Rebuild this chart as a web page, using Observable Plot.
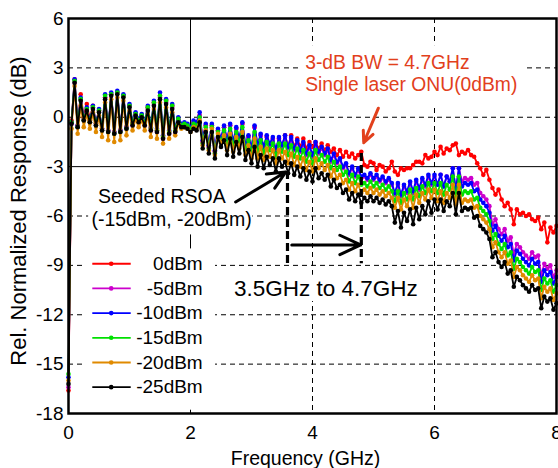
<!DOCTYPE html>
<html><head><meta charset="utf-8">
<script src="https://cdn.jsdelivr.net/npm/d3@7"></script>
<script src="https://cdn.jsdelivr.net/npm/@observablehq/plot@0.6"></script>
<style>body{margin:0;background:#fff} svg{display:block}</style>
</head><body><div id="chart"></div>
<script>
const seriesNames = ["0dBm", "-5dBm", "-10dBm", "-15dBm", "-20dBm", "-25dBm"];
const seriesColors = ["#ff0000", "#cc00cc", "#0000ff", "#00e000", "#e08a00", "#000000"];
const freqStepGHz = 0.05;
const xTicks = [0, 2, 4, 6, 8];
const yTicks = [-18, -15, -12, -9, -6, -3, 0, 3, 6];

const r0dBm = [-16.6,-0.2,2.3,-0.5,1.4,0.0,0.8,-0.1,0.7,-0.4,0.4,-0.7,1.2,-0.8,1.4,-0.9,1.5,-0.8,1.3,-0.6,0.7,-0.4,0.2,-0.2,0.1,-0.4,0.6,-0.7,0.9,-0.8,1.3,-1.2,1.0,-0.9,0.7,-0.8,-0.1,-0.5,-0.4,-0.5,-0.7,
-0.3,-0.4,0.1,-1.5,-0.5,-1.8,-0.5,-2.1,-0.8,-1.4,-0.6,-1.5,-0.5,-1.6,-0.7,-1.4,-0.4,-1.8,-1.2,-2.0,-0.6,-1.8,-1.1,-1.9,-1.2,-1.7,-1.3,-2.1,-1.3,-1.8,-1.1,-1.8,-1.1,-1.8,-1.3,-1.8,-1.3,-1.9,-1.5,-1.8,
-1.5,-1.9,-1.6,-2.0,-1.7,-2.1,-1.9,-2.3,-2.0,-2.4,-2.1,-2.4,-2.2,-2.5,-2.3,-2.1,-2.9,-3.0,-2.7,-2.8,-3.2,-2.9,-3.0,-3.3,-3.1,-2.7,-3.3,-3.5,-3.1,-3.2,-3.1,-3.1,-2.9,-2.7,-2.7,-2.8,-2.3,-2.5,-2.4,-2.1,
-2.3,-1.8,-2.2,-1.9,-2.0,-1.7,-1.6,-2.3,-2.1,-2.2,-2.0,-2.3,-2.4,-2.8,-3.1,-3.5,-3.2,-3.8,-4.3,-4.7,-4.4,-5.0,-5.4,-5.2,-5.6,-6.5,-5.6,-5.9,-5.8,-6.0,-5.9,-6.2,-6.3,-6.1,-6.8,-6.4,-7.6,-6.7,-7.0,-6.6];

const m5dBm = [-16.4,-0.4,2.1,-0.6,1.1,-0.2,0.5,-0.3,0.6,-0.5,0.4,-0.8,1.2,-0.9,1.4,-1.0,1.5,-0.9,1.3,-0.7,0.7,-0.5,0.2,-0.3,0.1,-0.5,0.5,-0.8,0.8,-0.9,1.2,-1.3,0.9,-1.0,0.6,-0.9,-0.2,-0.6,-0.5,-0.6,-0.8,
-0.3,-0.4,0.1,-1.5,-0.5,-1.8,-0.5,-2.1,-0.8,-1.4,-0.6,-1.5,-0.5,-1.6,-0.7,-1.4,-0.4,-1.8,-1.2,-2.0,-0.6,-1.8,-1.1,-1.9,-1.2,-1.7,-1.3,-2.1,-1.3,-1.8,-1.2,-1.9,-1.3,-2.0,-1.5,-2.1,-1.6,-2.3,-1.8,-2.4,
-1.6,-2.2,-1.9,-2.3,-2.0,-2.7,-2.3,-2.8,-2.6,-3.1,-2.9,-3.5,-3.1,-3.6,-3.2,-3.7,-3.6,-3.8,-3.5,-3.8,-3.6,-3.9,-3.7,-4.0,-3.8,-4.1,-4.7,-4.1,-4.8,-4.2,-4.6,-4.0,-4.6,-3.9,-4.4,-3.8,-4.2,-3.6,-4.1,-3.6,
-4.1,-3.5,-4.2,-3.6,-3.9,-3.1,-4.4,-3.1,-3.9,-3.7,-3.8,-3.7,-4.1,-4.0,-4.6,-4.8,-5.0,-5.4,-6.5,-6.2,-6.8,-7.1,-6.8,-7.5,-7.3,-8.3,-7.7,-7.9,-8.2,-8.4,-8.6,-8.2,-8.5,-8.4,-9.6,-8.9,-9.2,-9.0,-9.7,-9.3];

const m10dBm = [-15.8,-0.3,2.3,-0.5,1.2,-0.1,0.6,-0.2,0.7,-0.4,0.5,-0.7,1.4,-0.8,1.5,-0.9,1.6,-0.8,1.4,-0.6,0.8,-0.3,0.3,-0.1,0.2,-0.3,0.7,-0.6,1.0,-0.7,1.5,-1.1,1.1,-0.8,0.8,-0.7,0.0,-0.4,-0.3,-0.4,-0.6,
-0.2,-0.3,0.3,-1.4,-0.4,-1.7,-0.4,-2.0,-0.7,-1.3,-0.5,-1.4,-0.4,-1.5,-0.6,-1.3,-0.3,-1.7,-1.1,-1.9,-0.5,-1.7,-1.0,-1.8,-1.1,-1.6,-1.2,-2.0,-1.2,-1.7,-1.1,-1.8,-1.2,-1.9,-1.4,-2.0,-1.5,-2.2,-1.7,-2.3,
-1.5,-2.1,-1.8,-2.2,-1.9,-2.6,-2.2,-2.7,-2.5,-3.0,-2.8,-3.4,-3.0,-3.5,-3.1,-3.6,-3.5,-3.7,-3.4,-3.7,-3.5,-3.8,-3.6,-3.9,-3.7,-4.0,-4.6,-4.0,-4.7,-4.1,-4.5,-3.9,-4.5,-3.8,-4.3,-3.7,-4.1,-3.5,-4.0,-3.5,
-4.1,-3.5,-4.2,-3.6,-3.9,-3.1,-4.4,-3.1,-4.2,-4.0,-4.1,-4.0,-4.5,-4.4,-5.0,-5.2,-5.4,-5.8,-6.9,-6.6,-7.2,-7.5,-7.2,-7.9,-7.7,-8.7,-8.1,-8.3,-8.6,-8.8,-9.0,-8.6,-8.9,-8.8,-10.0,-9.3,-9.6,-9.4,-10.1,-9.7];

const m15dBm = [-15.6,-0.3,2.2,-0.6,1.1,-0.2,0.5,-0.3,0.6,-0.5,0.4,-0.8,1.3,-0.9,1.4,-1.0,1.5,-0.9,1.3,-0.7,0.7,-0.4,0.2,-0.2,0.1,-0.4,0.6,-0.7,0.9,-0.8,1.3,-1.2,1.0,-0.9,0.7,-0.8,-0.1,-0.5,-0.4,-0.5,-0.7,
-0.4,-0.5,0.0,-1.6,-0.6,-1.9,-0.6,-2.2,-0.9,-1.5,-0.8,-1.7,-0.7,-1.8,-0.9,-1.6,-0.6,-2.0,-1.4,-2.2,-0.9,-2.1,-1.4,-2.2,-1.5,-2.0,-1.6,-2.4,-1.6,-2.1,-1.6,-2.3,-1.7,-2.4,-1.9,-2.5,-2.0,-2.7,-2.2,-2.8,
-2.0,-2.6,-2.3,-2.7,-2.4,-3.1,-2.7,-3.2,-3.0,-3.5,-3.3,-3.9,-3.5,-4.0,-3.6,-4.1,-4.0,-4.2,-3.9,-4.2,-4.0,-4.3,-4.1,-4.4,-4.2,-4.5,-5.1,-4.5,-5.2,-4.6,-5.0,-4.4,-5.0,-4.3,-4.8,-4.2,-4.6,-4.0,-4.5,-4.0,
-4.6,-4.0,-4.7,-4.1,-4.4,-3.6,-4.9,-3.6,-4.7,-4.5,-4.6,-4.5,-5.0,-4.9,-5.5,-5.7,-5.9,-6.3,-7.4,-7.1,-7.7,-8.0,-7.7,-8.4,-8.2,-9.2,-8.6,-8.8,-9.1,-9.3,-9.5,-9.1,-9.4,-9.3,-10.5,-9.8,-10.1,-9.9,-10.6,-10.2];

const m20dBm = [-16.0,-0.7,1.9,-1.0,0.7,-0.6,0.2,-0.7,0.3,-0.9,0.1,-1.2,0.9,-1.4,1.1,-1.5,1.2,-1.4,1.0,-1.1,0.4,-0.8,-0.1,-0.6,-0.2,-0.8,0.2,-1.2,0.5,-1.3,0.9,-1.6,0.6,-1.3,0.3,-1.1,-0.4,-0.7,-0.6,-0.7,-0.9,
-0.6,-0.7,-0.2,-1.7,-0.8,-2.0,-0.7,-2.3,-1.0,-1.6,-1.1,-2.0,-1.0,-2.1,-1.2,-1.9,-0.9,-2.3,-1.7,-2.5,-1.3,-2.5,-1.8,-2.6,-1.9,-2.4,-2.0,-2.8,-2.0,-2.5,-2.1,-2.8,-2.2,-2.9,-2.4,-3.0,-2.5,-3.2,-2.7,-3.3,
-2.5,-3.1,-2.8,-3.2,-2.9,-3.6,-3.2,-3.7,-3.5,-4.0,-3.8,-4.4,-4.0,-4.5,-4.1,-4.6,-4.4,-4.6,-4.3,-4.6,-4.4,-4.7,-4.5,-4.8,-4.6,-4.9,-5.5,-4.9,-5.6,-5.0,-5.4,-4.8,-5.5,-4.7,-5.2,-4.6,-5.0,-4.4,-4.9,-4.4,
-5.1,-4.5,-5.2,-4.6,-4.9,-4.1,-5.3,-4.1,-5.2,-5.0,-5.1,-5.0,-5.5,-5.4,-6.0,-6.2,-6.4,-6.8,-7.9,-7.6,-8.2,-8.5,-8.2,-8.9,-8.7,-9.7,-9.1,-9.3,-9.6,-9.8,-10.0,-9.6,-9.9,-9.8,-11.0,-10.3,-10.6,-10.4,-11.1,-10.7];

const m25dBm = [-16.2,-0.4,2.1,-0.6,1.0,-0.2,0.4,-0.3,0.5,-0.5,0.3,-0.8,1.1,-0.9,1.3,-1.0,1.4,-0.9,1.2,-0.7,0.6,-0.5,0.1,-0.3,0.0,-0.5,0.4,-0.8,0.7,-0.9,1.1,-1.3,0.8,-1.0,0.5,-0.9,-0.3,-0.6,-0.6,-0.7,-0.9,
-0.7,-0.8,-0.3,-1.9,-0.9,-2.2,-0.9,-2.5,-1.2,-1.8,-1.4,-2.3,-1.3,-2.4,-1.5,-2.2,-1.2,-2.6,-2.0,-2.8,-1.8,-3.0,-2.3,-3.1,-2.4,-2.9,-2.5,-3.3,-2.5,-3.0,-2.7,-3.4,-2.8,-3.5,-3.0,-3.6,-3.1,-3.8,-3.3,-3.9,
-3.1,-3.7,-3.4,-3.8,-3.5,-4.2,-3.8,-4.3,-4.1,-4.6,-4.4,-5.0,-4.6,-5.1,-4.7,-5.2,-4.9,-5.1,-4.8,-5.1,-4.9,-5.2,-5.0,-5.3,-5.1,-5.4,-6.4,-5.7,-6.7,-5.8,-6.3,-5.6,-6.5,-5.5,-6.2,-5.4,-5.9,-5.1,-5.8,-5.0,
-5.6,-5.0,-5.7,-5.1,-5.4,-4.6,-5.9,-4.6,-5.7,-5.5,-5.6,-5.5,-6.1,-6.0,-6.6,-6.8,-7.0,-7.4,-8.5,-8.2,-8.8,-9.1,-8.8,-9.5,-9.3,-10.3,-9.7,-9.9,-10.2,-10.4,-10.6,-10.2,-10.5,-10.4,-11.6,-10.9,-11.2,-11.0,-11.7,-11.3];

const seriesValues = [r0dBm, m5dBm, m10dBm, m15dBm, m20dBm, m25dBm];

// ---- texts ----
const xLabel = "Frequency (GHz)";
const yLabel = "Rel. Normalized Response (dB)";
const redNote = ["3-dB BW = 4.7GHz", "Single laser ONU(0dBm)"];
const seededNote = ["Seeded RSOA", "(-15dBm, -20dBm)"];
const rangeNote = "3.5GHz to 4.7GHz";

// ---- build table ----
const rows = seriesNames.flatMap((name, k) =>
  seriesValues[k].map((v, i) => ({f: +(i * freqStepGHz).toFixed(2), v, name})));

const FONT = "Liberation Sans, Arial, Helvetica, sans-serif";
const RED = "#e2401c";

// annotation placement (data coordinates)
const boxes = [
  {x1: 0.25, x2: 2.41, y1: -8.0, y2: -17.8},   // legend
  {x1: 0.33, x2: 3.02, y1: -3.55, y2: -7.15},  // seeded note
  {x1: 3.80, x2: 7.52, y1: 4.35, y2: 0.75},    // red note
  {x1: 2.62, x2: 5.84, y1: -9.6, y2: -11.2}    // range note
];
const legendRows = seriesNames.map((name, k) => ({name, color: seriesColors[k], y: -8.9 - 1.5 * k}));

const marks = [
  Plot.ruleY([3, 0, -6, -9, -12, -15], {stroke: "black", strokeWidth: 1, strokeDasharray: "5,4"}),
  Plot.ruleX([4, 6], {stroke: "black", strokeWidth: 1, strokeDasharray: "5,4"}),
  Plot.ruleY([-3], {stroke: "black", strokeWidth: 1}),
  Plot.ruleX([2], {stroke: "black", strokeWidth: 1}),
  Plot.rect(boxes, {x1: "x1", x2: "x2", y1: "y1", y2: "y2", fill: "white"})
];
seriesNames.forEach((name, k) => {
  const d = rows.filter(r => r.name === name);
  marks.push(Plot.line(d, {x: "f", y: "v", stroke: seriesColors[k], strokeWidth: 1.8}));
  marks.push(Plot.dot(d, {x: "f", y: "v", r: 2.3, fill: seriesColors[k], stroke: "none"}));
});
// legend
marks.push(
  Plot.link(legendRows, {x1: 0.39, x2: 1.02, y1: "y", y2: "y", stroke: "color", strokeWidth: 1.8}),
  Plot.dot(legendRows, {x: 0.70, y: "y", r: 2.3, fill: "color", stroke: "none"}),
  Plot.text(legendRows, {x: 2.2, y: "y", text: "name", textAnchor: "end", fontSize: 19, fill: "black"})
);
// annotations
marks.push(
  Plot.text([redNote[0]], {x: 3.88, y: 3.3, text: d => d, textAnchor: "start", fontSize: 19.3, fill: RED}),
  Plot.text([redNote[1]], {x: 3.88, y: 1.95, text: d => d, textAnchor: "start", fontSize: 19.3, fill: RED}),
  Plot.arrow([{x1: 5.08, y1: 0.55, x2: 4.84, y2: -1.55}], {x1: "x1", y1: "y1", x2: "x2", y2: "y2", stroke: RED, strokeWidth: 3, headLength: 12, headAngle: 50}),
  Plot.text([seededNote[0]], {x: 1.53, y: -4.8, text: d => d, fontSize: 19.5, fill: "black"}),
  Plot.text([seededNote[1]], {x: 1.69, y: -6.2, text: d => d, fontSize: 19.5, fill: "black"}),
  Plot.arrow([{x1: 2.74, y1: -5.15, x2: 3.56, y2: -3.33}], {x1: "x1", y1: "y1", x2: "x2", y2: "y2", stroke: "black", strokeWidth: 3, headLength: 12, headAngle: 50}),
  Plot.ruleX([{x: 3.59, y1: -3.3, y2: -8.9}, {x: 4.80, y1: -2.2, y2: -8.9}], {x: "x", y1: "y1", y2: "y2", stroke: "black", strokeWidth: 3.2, strokeDasharray: "8,4"}),
  Plot.arrow([{x1: 3.66, y1: -7.76, x2: 4.79, y2: -7.76}], {x1: "x1", y1: "y1", x2: "x2", y2: "y2", stroke: "black", strokeWidth: 3, headLength: 14, headAngle: 50}),
  Plot.text([rangeNote], {x: 4.22, y: -10.4, text: d => d, fontSize: 22.5, fill: "black"}),
  Plot.frame({stroke: "black", strokeWidth: 2.5}),
  Plot.axisX({ticks: xTicks, tickSize: 0, tickPadding: 12, fontSize: 19, label: null, tickFormat: d => String(d)}),
  Plot.axisY({ticks: yTicks, tickSize: 0, tickPadding: 5, fontSize: 19, label: null, tickFormat: d => String(d)}),
  Plot.text([xLabel], {frameAnchor: "bottom", textAnchor: "middle", dx: -7, dy: 51, text: d => d, fontSize: 19.5, fill: "black"}),
  Plot.text([yLabel], {frameAnchor: "left", textAnchor: "middle", dx: -50, dy: -5, rotate: -90, text: d => d, fontSize: 22, fill: "black"})
);

const chart = Plot.plot({
  width: 558, height: 468,
  marginLeft: 68, marginRight: 2, marginTop: 18, marginBottom: 55,
  x: {domain: [0, 8]},
  y: {domain: [-18, 6]},
  style: {fontFamily: FONT, background: "white", color: "black", overflow: "visible"},
  marks
});
document.getElementById("chart").appendChild(chart);
</script>
</body></html>
